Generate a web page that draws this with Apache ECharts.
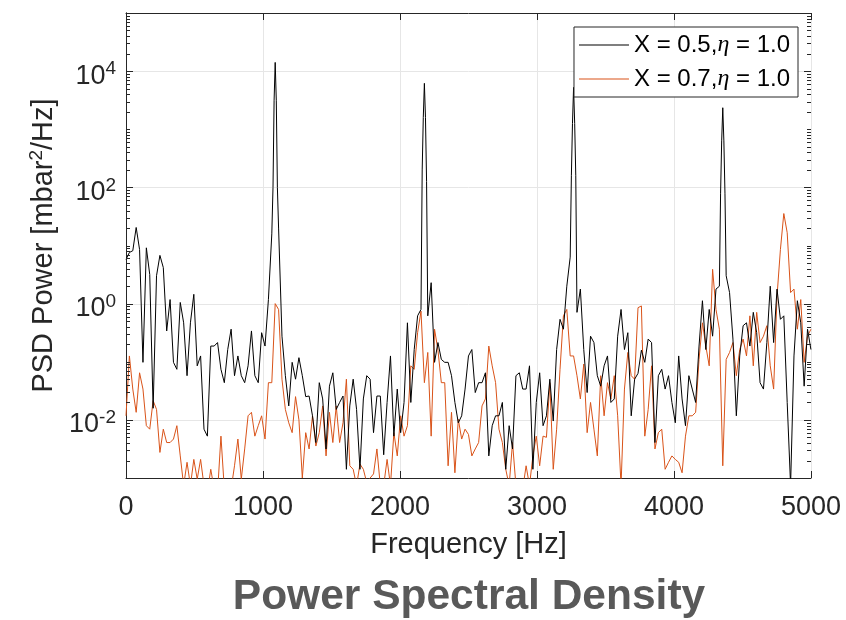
<!DOCTYPE html>
<html><head><meta charset="utf-8">
<script src="https://cdn.jsdelivr.net/npm/echarts@6/dist/echarts.min.js"></script>
<style>html,body{margin:0;padding:0;background:#fff}#c{width:846px;height:620px}</style>
</head><body><div id="c"></div>
<script>
// ---- data (stored as log10 of PSD) ----
const freqStep = 24.75; // Hz between samples, sample i is at i*freqStep
const blackLog10 = [
 0.76, 0.88, 0.91, 1.31, 0.93, -1.01, 0.96, 0.50, -1.8, 0.48,
 0.83, 0.62, -0.47, 0.07, -1.01, -1.13, 0.02, -0.33, -1.24, -0.33,
 0.16, -1.07, -0.90, -2.16, -2.28, -0.73, -0.73, -0.67, -1.13, -1.36,
 -0.79, -0.44, -1.24, -0.90, -1.24, -1.36, -1.07, -0.47, -1.24, -1.36,
 -0.50, -0.73, 0.07, 1.2, 4.15, 1.3, -0.56, -1.24, -1.76, -1.01,
 -1.3, -0.93, -1.24, -1.6, -1.59, -1.93, -2.39, -1.36, -1.64, -2.50,
 -1.42, -1.19, -1.82, -1.70, -1.59, -2.85, -1.76, -1.30, -1.82, -2.85,
 -1.64, -1.24, -1.30, -2.22, -1.59, -1.59, -2.6, -1.70, -0.90, -2.28,
 -1.47, -2.22, -1.70, -0.33, -1.70, -0.79, -0.21, -0.10, 3.79, -0.21,
 0.36, -1.01, -0.67, -0.96, -1.01, -1.01, -1.24, -1.70, -2.05, -1.93,
 -1.47, -0.90, -0.79, -1.53, -1.36, -1.36, -1.19, -2.62, -2.10, -1.93,
 -1.93, -1.70, -2.85, -2.10, -2.50, -1.24, -1.19, -1.47, -1.47, -1.07,
 -2.85, -1.70, -1.19, -2.10, -1.93, -1.30, -2.02, -0.79, -0.27, -0.44,
 0.3, 0.8, 3.72, -0.15, 0.25, -0.79, -1.53, -0.56, -0.67, -1.24,
 -1.42, -1.07, -0.90, -1.70, -1.64, -0.56, -0.10, -0.79, -0.50, -1.93,
 -1.30, -1.2, -0.8, -1.01, -0.61, -0.67, -2.39, -1.24, -1.13, -1.47,
 -1.24, -1.70, -2.05, -0.90, -1.64, -2.10, -1.24, -1.47, -1.70, -0.73,
 0.05, -0.79, -0.10, -0.56, 0.25, 0.3, 3.37, 0.48, 0.19, -0.61,
 -1.93, -0.90, -0.38, -0.33, -0.73, -0.15, -0.50, -1.36, -1.47, -0.67,
 0.30, -0.67, 0.25, -0.27, -0.21, -1.70, -3.13, -0.90, 0.05, -0.33,
 -1.42, -0.44, -0.79
];
const orangeLog10 = [
 -1.93, -0.90, -1.47, -1.87, -1.19, -1.47, -2.10, -2.16, -1.67, -1.82,
 -2.56, -2.16, -2.39, -2.39, -2.33, -2.10, -2.62, -3.13, -2.73, -3.13,
 -2.68, -3.02, -2.68, -3.13, -3.25, -2.85, -3.19, -3.25, -2.28, -3.19,
 -3.25, -3.19, -2.79, -2.33, -3.02, -2.50, -1.93, -1.87, -2.28, -2.10,
 -1.93, -2.33, -1.36, -1.36, 0.0, -0.10, -1.30, -1.82, -2.05, -2.22,
 -1.6, -2.0, -3.0, -2.22, -2.50, -1.93, -2.45, -2.22, -1.76, -2.62,
 -1.87, -2.39, -1.76, -2.39, -2.05, -1.30, -2.79, -2.85, -3.13, -2.76,
 -2.85, -3.08, -3.0, -2.93, -2.50, -3.13, -3.13, -2.68, -3.13, -2.22,
 -2.62, -1.93, -2.28, -2.10, -1.07, -1.13, -0.50, -0.13, -1.36, -0.84,
 -2.28, -0.44, -0.8, -1.36, -1.36, -2.79, -1.87, -2.91, -1.99, -2.33,
 -2.16, -2.25, -2.62, -2.50, -2.39, -1.76, -1.64, -0.73, -1.07, -1.36,
 -2.16, -2.39, -2.85, -3.13, -2.39, -3.13, -3.19, -3.19, -2.79, -3.13,
 -2.62, -2.28, -2.79, -2.28, -2.3, -1.36, -2.85, -2.16, -1.13, -0.21,
 -0.10, -0.90, -0.90, -1.24, -1.64, -1.04, -2.22, -1.70, -2.16, -2.62,
 -1.24, -1.93, -1.36, -1.64, -1.24, -1.93, -3.13, -1.47, -0.84, -1.24,
 -1.30, -0.07, -0.04, -2.28, -1.82, -1.07, -2.50, -2.22, -2.16, -2.85,
 -2.73, -2.62, -2.68, -2.73, -2.91, -2.28, -1.93, -1.93, -1.87, -0.96,
 -0.33, -0.73, -1.07, 0.59, -0.10, -0.44, -2.79, -0.96, -0.84, -0.67,
 -1.24, -0.79, -0.61, -0.90, -0.21, -1.07, -0.15, -0.67, -0.56, -0.38,
 -1.07, -1.47, 0.13, 0.93, 1.55, 1.22, 0.19, 0.25, -0.44, 0.07,
 -1.01, -0.56, -0.44
];
// extra samples around the four sharp black harmonics
const blackPeakFreq  = [1073, 1081, 1097, 1105, 2162, 2170, 2186, 2194, 3251, 3259, 3275, 3283, 4340, 4348, 4364, 4372];
const blackPeakLog10 = [2.0, 3.5, 3.5, 2.0, 2.3, 3.2, 3.2, 2.1, 2.2, 3.1, 3.1, 2.2, 1.9, 2.8, 2.8, 1.9];
const seriesNames = ['X = 0.5,η = 1.0', 'X = 0.7,η = 1.0'];
const seriesColors = ['#000000', '#D95319'];
const xMin = 0, xMax = 5000, xInterval = 1000;
const yMin = 1e-3, yMax = 1e5;
const yLabelExps = [-2, 0, 2, 4];

// ---- build ----
function build(logs, pf, pl) {
  const pts = logs.map((e, i) => [i * freqStep, Math.pow(10, e)]);
  if (pf) pf.forEach((f, k) => pts.push([f, Math.pow(10, pl[k])]));
  pts.sort((a, b) => a[0] - b[0]);
  return pts;
}
const blackData = build(blackLog10, blackPeakFreq, blackPeakLog10);
const orangeData = build(orangeLog10);

// tick values on the log axis (major at labelled decades, minor elsewhere)
const yTicks = [];
for (let n = -3; n <= 4; n++) {
  for (let m = 1; m <= 9; m++) {
    const v = m * Math.pow(10, n);
    if (v <= yMin || v >= yMax) continue;
    const major = (m === 1 && yLabelExps.indexOf(n) >= 0) ? 1 : 0;
    yTicks.push([xMin, v, major]);
  }
}
const yGrid = yLabelExps.map(e => [xMin, Math.pow(10, e)]);

const FONT = '"Liberation Sans", Arial, Helvetica, sans-serif';
const AX = '#262626';
const GRID = '#e6e6e6';

const chart = echarts.init(document.getElementById('c'), null, {renderer: 'canvas'});
chart.setOption({
  animation: false,
  backgroundColor: '#fff',
  grid: {left: 126, right: 35, top: 13, bottom: 142, containLabel: false},
  xAxis: [{
    type: 'value', min: xMin, max: xMax, interval: xInterval,
    name: 'Frequency [Hz]', nameLocation: 'middle', nameGap: 52,
    nameTextStyle: {fontSize: 29, fontFamily: FONT, color: AX},
    axisLine: {show: true, onZero: false, lineStyle: {color: AX, width: 1}},
    axisTick: {show: true, inside: true, length: 7, lineStyle: {color: AX}},
    axisLabel: {fontSize: 27, fontFamily: FONT, color: AX, margin: 16, formatter: v => String(v)},
    splitLine: {show: true, lineStyle: {color: GRID, width: 1}}
  }, {
    type: 'value', position: 'top', min: xMin, max: xMax, interval: xInterval,
    axisLine: {show: true, onZero: false, lineStyle: {color: AX, width: 1}},
    axisTick: {show: true, inside: true, length: 7, lineStyle: {color: AX}},
    axisLabel: {show: false}, splitLine: {show: false}
  }],
  yAxis: [{
    type: 'log', logBase: 10, min: yMin, max: yMax, interval: 1,
    name: 'PSD Power [mbar{s|2}/Hz]', nameLocation: 'middle', nameGap: 61, nameRotate: 90,
    nameTextStyle: {fontSize: 29, fontFamily: FONT, color: AX,
      rich: {s: {fontSize: 19, fontFamily: FONT, color: AX, padding: [0, 0, 14, 0]}}},
    axisLine: {show: true, lineStyle: {color: AX, width: 1}},
    axisTick: {show: false},
    splitLine: {show: false},
    axisLabel: {
      margin: 10, color: AX, fontFamily: FONT, padding: [7, 0, 0, 0],
      formatter: function (v) {
        const e = Math.round(Math.log10(v));
        if (yLabelExps.indexOf(e) < 0) return '';
        return '{b|10}{s|' + e + '}';
      },
      rich: {
        b: {fontSize: 27, fontFamily: FONT, color: AX, verticalAlign: 'bottom', lineHeight: 30},
        s: {fontSize: 19, fontFamily: FONT, color: AX, verticalAlign: 'top', lineHeight: 19}
      }
    }
  }, {
    type: 'log', logBase: 10, min: yMin, max: yMax, position: 'right',
    axisLine: {show: true, lineStyle: {color: AX, width: 1}},
    axisTick: {show: false}, axisLabel: {show: false}, splitLine: {show: false}
  }],
  legend: {
    orient: 'vertical', right: 48, top: 27,
    icon: 'rect', itemWidth: 50, itemHeight: 1, itemGap: 10,
    padding: [6, 8, 6, 5],
    borderColor: AX, borderWidth: 1, backgroundColor: '#fff',
    data: seriesNames,
    formatter: n => n.replace('η', '{it|η}'),
    textStyle: {fontSize: 24, fontFamily: FONT, color: '#000',
      rich: {it: {fontSize: 24, fontStyle: 'italic', fontFamily: '"Liberation Serif", "DejaVu Serif", serif', color: '#000'}}}
  },
  graphic: [{
    type: 'text', x: 469, y: 576,
    style: {text: 'Power Spectral Density', fontSize: 42.5, fontWeight: 'bold', fontFamily: FONT,
      fill: '#595959', align: 'center', verticalAlign: 'top'}
  }],
  series: [{
    type: 'custom', name: 'ygrid', silent: true, z: 1,
    xAxisIndex: 0, yAxisIndex: 0, encode: {x: 0, y: 1},
    data: yGrid,
    renderItem: function (params, api) {
      const v = api.value(1);
      const l = api.coord([xMin, v]), r = api.coord([xMax, v]);
      const y = Math.round(l[1]) + 0.5;
      return {type: 'line', shape: {x1: l[0], y1: y, x2: r[0], y2: y}, style: {stroke: GRID, lineWidth: 1}};
    }
  }, {
    type: 'line', name: seriesNames[0], data: blackData, showSymbol: false, symbol: 'none',
    lineStyle: {color: seriesColors[0], width: 1}, itemStyle: {color: seriesColors[0]}, z: 3, clip: true
  }, {
    type: 'line', name: seriesNames[1], data: orangeData, showSymbol: false, symbol: 'none',
    lineStyle: {color: seriesColors[1], width: 1}, itemStyle: {color: seriesColors[1]}, z: 2, clip: true
  }, {
    type: 'custom', name: 'yticks', silent: true, z: 5,
    xAxisIndex: 0, yAxisIndex: 0, encode: {x: 0, y: 1},
    data: yTicks,
    renderItem: function (params, api) {
      const v = api.value(1), major = api.value(2);
      const l = api.coord([xMin, v]), r = api.coord([xMax, v]);
      const len = major ? 7 : 4;
      const y = Math.round(l[1]) + 0.5;
      return {type: 'group', children: [
        {type: 'line', shape: {x1: l[0], y1: y, x2: l[0] + len, y2: y}, style: {stroke: AX, lineWidth: 1}},
        {type: 'line', shape: {x1: r[0], y1: y, x2: r[0] - len, y2: y}, style: {stroke: AX, lineWidth: 1}}
      ]};
    }
  }]
});
</script>
</body></html>
